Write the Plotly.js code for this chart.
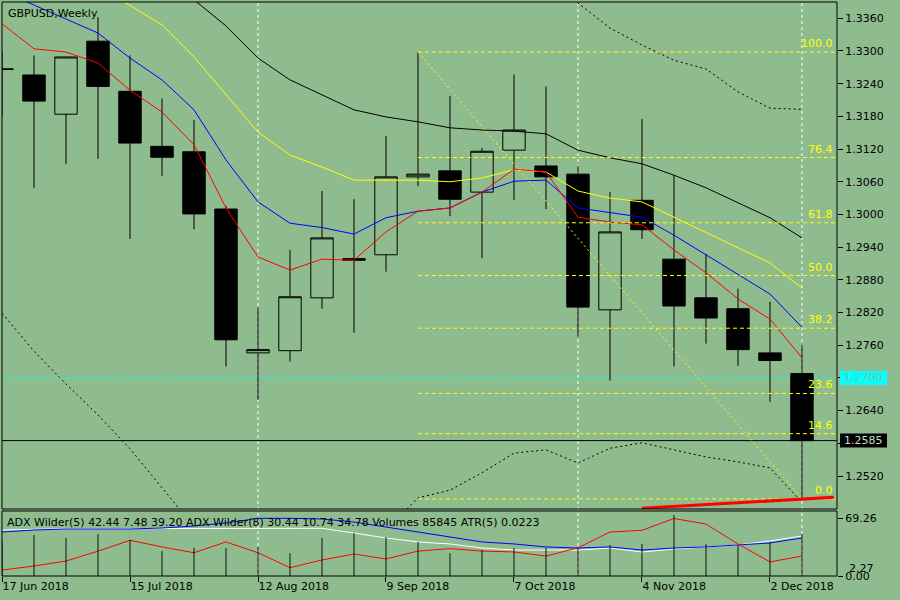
<!DOCTYPE html>
<html><head><meta charset="utf-8">
<script src="https://cdn.plot.ly/plotly-3.0.1.min.js"></script>
<style>html,body{margin:0;padding:0;background:#8FBC8F;}#chart{width:900px;height:600px;}</style>
</head><body><div id="chart"></div>
<script>
const weeks = ['2018-06-17','2018-06-24','2018-07-01','2018-07-08','2018-07-15','2018-07-22','2018-07-29','2018-08-05','2018-08-12','2018-08-19','2018-08-26','2018-09-02','2018-09-09','2018-09-16','2018-09-23','2018-09-30','2018-10-07','2018-10-14','2018-10-21','2018-10-28','2018-11-04','2018-11-11','2018-11-18','2018-11-25','2018-12-02','2018-12-09'];
const openP  = [1.3266,1.3256,1.3184,1.3318,1.3226,1.3125,1.3115,1.3010,1.2746,1.2750,1.2847,1.2919,1.2926,1.3069,1.3080,1.3041,1.3118,1.3089,1.3074,1.2825,1.3026,1.2918,1.2847,1.2827,1.2746,1.2708];
const highP  = [1.3300,1.3292,1.3290,1.3362,1.3292,1.3213,1.3173,1.3016,1.2829,1.2935,1.3043,1.3028,1.3144,1.3298,1.3217,1.3122,1.3257,1.3235,1.3089,1.3041,1.3175,1.3072,1.2928,1.2864,1.2840,1.2761];
const lowP   = [1.3180,1.3049,1.3093,1.3102,1.2955,1.3071,1.2973,1.2721,1.2660,1.2730,1.2827,1.2783,1.2895,1.3052,1.2997,1.2920,1.3027,1.3010,1.2776,1.2695,1.2955,1.2721,1.2763,1.2722,1.2656,1.2478];
const closeP = [1.3267,1.3208,1.3289,1.3235,1.3131,1.3105,1.3001,1.2770,1.2752,1.2849,1.2957,1.2916,1.3069,1.3074,1.3028,1.3116,1.3155,1.3069,1.2830,1.2968,1.2972,1.2832,1.2810,1.2752,1.2732,1.2585];

const maRed    = [1.3350,1.3304,1.3298,1.3278,1.3228,1.3188,1.3128,1.3012,1.2922,1.2898,1.2918,1.2916,1.2968,1.3006,1.3012,1.3041,1.3083,1.3078,1.2995,1.2986,1.2981,1.2935,1.2893,1.2845,1.2808,1.2737];
const maBlue   = [1.3410,1.3384,1.3359,1.3333,1.3287,1.3247,1.3192,1.3100,1.3023,1.2984,1.2976,1.2964,1.2994,1.3006,1.3012,1.3041,1.3061,1.3063,1.3012,1.3003,1.2995,1.2962,1.2926,1.2889,1.2854,1.2793];
const maYellow = [null,null,null,1.3419,1.3384,1.3348,1.3289,1.3219,1.3151,1.3109,1.3087,1.3063,1.3063,1.3063,1.3060,1.3067,1.3082,1.3078,1.3043,1.3030,1.3023,1.2995,1.2966,1.2939,1.2911,1.2865];
const maBlack  = [null,null,null,null,null,1.3449,1.3394,1.3346,1.3287,1.3247,1.3219,1.3192,1.3179,1.3170,1.3159,1.3155,1.3153,1.3148,1.3118,1.3104,1.3093,1.3072,1.3049,1.3021,1.2994,1.2957];
const bandUpper = [null,null,null,null,null,null,null,null,null,null,null,null,null,null,null,null,null,1.3434,1.3388,1.3342,1.3311,1.3283,1.3267,1.3225,1.3195,1.3193];
const bandLower = [1.2819,1.2749,1.2689,1.2632,1.2570,1.2498,1.2427,null,null,null,null,null,1.2420,1.2480,1.2494,1.2526,1.2562,1.2568,1.2544,1.2571,1.2581,1.2568,1.2555,1.2546,1.2535,1.2472];

const volumes  = [70000,83800,77700,85800,73600,51100,57200,57200,59300,47000,77700,87900,79700,69500,47000,53100,57200,57200,57200,63400,65400,124700,65400,63400,69500,85845];
const adxRed   = [7.2,12,18,30,43,35,28,41,28,10,19.3,26.5,20.5,30,33,30,29,24,34,53,55,69.26,62.6,38.5,17,24];
const adxBlue  = [53,55.4,56.6,56.6,56.6,57.8,60.2,63.9,69.5,69.5,68.7,65,59,53,46.5,41,38.6,35,33.7,35,31.3,33.7,35,37.3,39.8,45.8];
const adxWhite = [55.4,56.6,57,57,57,57,57,57,57,57,57.5,51.8,45.8,41,38.6,33.7,31.3,31.3,31.3,33.7,28.9,32.5,35,37.3,42.2,48.2];

const priceTicks = [1.2520,1.2580,1.2640,1.2700,1.2760,1.2820,1.2880,1.2940,1.3000,1.3060,1.3120,1.3180,1.3240,1.3300,1.3360];
const fibLevels = [0.0,14.6,23.6,38.2,50.0,61.8,76.4,100.0];
const fibHigh = 1.3298, fibLow = 1.2478;
const fibStart = '2018-09-16', fibEnd = '2018-12-09';
const vLineDates = ['2018-08-12','2018-10-21','2018-12-09'];
const cyanLevel = 1.2700;
const bidPrice = 1.2585;
const redTrend = {x:['2018-11-04','2018-12-16'], y:[1.2461,1.2481]};
const subMax = 69.26, subMin = 2.27;
const subText = 'ADX Wilder(5) 42.44 7.48 39.20 ADX Wilder(8) 30.44 10.74 34.78 Volumes 85845 ATR(5) 0.0223';

const BG = '#8FBC8F';
const xStart = '2018-06-17', xEnd = '2018-12-16 15:50';
const mainDom = [0.11672, 1], subDom = [0, 0.11324];
const dash = '4px,3px';
const F = 'DejaVu Sans';

function line(y, color, dashv, axis){
  return {type:'scatter', mode:'lines', x:weeks, y:y, yaxis:axis||'y', hoverinfo:'skip',
          line:{color:color, width:1, dash:dashv||'solid'}};
}

const traces = [
  {type:'candlestick', x:weeks, open:openP, high:highP, low:lowP, close:closeP, xaxis:'x', yaxis:'y',
   increasing:{line:{color:'#000',width:1}, fillcolor:BG},
   decreasing:{line:{color:'#000',width:1}, fillcolor:'#000'}, whiskerwidth:0, hoverinfo:'skip'},
  line(bandUpper,'#000','2px,3px'),
  line(bandLower,'#000','2px,3px'),
  line(maBlack,'#000'),
  line(maYellow,'#FFFF00'),
  line(maBlue,'#0000FF'),
  line(maRed,'#FF0000'),
  {type:'bar', x:weeks, y:volumes, yaxis:'y3', width:17000000, marker:{color:'#000', line:{width:0}}, hoverinfo:'skip'},
  line(adxWhite,'#FFFFFF',null,'y2'),
  line(adxBlue,'#0000FF',null,'y2'),
  line(adxRed,'#FF0000',null,'y2')
];

const shapes = [];
vLineDates.forEach(d => shapes.push({type:'line', xref:'x', yref:'paper', x0:d, x1:d, y0:0, y1:1, layer:'below',
  line:{color:'#FFFFFF', width:1, dash:'3px,3px'}}));
shapes.push({type:'line', xref:'paper', yref:'y', x0:0, x1:1, y0:cyanLevel, y1:cyanLevel, layer:'below', line:{color:'#00FFFF', width:1, dash:dash}});
shapes.push({type:'line', xref:'paper', yref:'y', x0:0, x1:1, y0:bidPrice, y1:bidPrice, layer:'below', line:{color:'#000', width:1}});
fibLevels.forEach(l => {
  const p = fibLow + (fibHigh - fibLow) * l / 100;
  shapes.push({type:'line', xref:'x', yref:'y', x0:fibStart, x1:xEnd, y0:p, y1:p, layer:'above', line:{color:'#FFFF00', width:1, dash:dash}});
});
shapes.push({type:'line', xref:'x', yref:'y', x0:fibStart, x1:fibEnd, y0:fibHigh, y1:fibLow, layer:'above', line:{color:'#FFFF00', width:1, dash:'2px,3px'}});
shapes.push({type:'line', xref:'x', yref:'y', x0:redTrend.x[0], x1:redTrend.x[1], y0:redTrend.y[0], y1:redTrend.y[1], layer:'above', line:{color:'#FF0000', width:3}});
shapes.push({type:'rect', xref:'paper', yref:'paper', x0:0, x1:1, y0:mainDom[0], y1:mainDom[1], layer:'above', line:{color:'#000', width:1}, fillcolor:'rgba(0,0,0,0)'});
shapes.push({type:'rect', xref:'paper', yref:'paper', x0:0, x1:1, y0:subDom[0], y1:subDom[1], layer:'above', line:{color:'#000', width:1}, fillcolor:'rgba(0,0,0,0)'});
const bx0 = 1.00359, bx1 = 1.05988;
shapes.push({type:'rect', xref:'paper', yref:'y', ysizemode:'pixel', yanchor:cyanLevel, x0:bx0, x1:bx1, y0:-7, y1:7, layer:'above', fillcolor:'#00FFFF', line:{width:0}});
shapes.push({type:'rect', xref:'paper', yref:'y', ysizemode:'pixel', yanchor:bidPrice, x0:bx0, x1:bx1, y0:-7, y1:7, layer:'above', fillcolor:'#000', line:{width:0}});

const annotations = [];
annotations.push({xref:'paper', yref:'paper', x:0, y:1, xanchor:'left', yanchor:'top', xshift:4, yshift:-3, showarrow:false,
  text:'GBPUSD,Weekly', font:{family:F, size:11, color:'#000'}});
annotations.push({xref:'paper', yref:'paper', x:0, y:subDom[1], xanchor:'left', yanchor:'top', xshift:3, yshift:-3, showarrow:false,
  text:subText, font:{family:F, size:11, color:'#000'}});
fibLevels.forEach(l => {
  const p = fibLow + (fibHigh - fibLow) * l / 100;
  annotations.push({xref:'paper', yref:'y', x:1, y:p, xanchor:'right', yanchor:'bottom', xshift:-2, yshift:0, showarrow:false,
    text:l.toFixed(1), font:{family:F, size:11, color:'#FFFF00'}});
});
annotations.push({xref:'paper', yref:'y', x:bx0, y:cyanLevel, xanchor:'left', yanchor:'middle', xshift:2, showarrow:false,
  text:cyanLevel.toFixed(4), font:{family:F, size:11, color:BG}});
annotations.push({xref:'paper', yref:'y', x:bx0, y:bidPrice, xanchor:'left', yanchor:'middle', xshift:2, showarrow:false,
  text:bidPrice.toFixed(4), font:{family:F, size:11, color:'#C8DCC8'}});
annotations.push({xref:'paper', yref:'y2', x:1, y:subMin, xanchor:'left', yanchor:'middle', xshift:10, yshift:6, showarrow:false,
  text:subMin.toFixed(2), font:{family:F, size:11, color:'#000'}});

// tick labels hidden behind the price label boxes are left blank
const covered = [cyanLevel.toFixed(4), '1.2580'];

const layout = {
  width:900, height:600,
  margin:{l:2, r:63, t:2, b:24, pad:0},
  paper_bgcolor:BG, plot_bgcolor:BG,
  showlegend:false, hovermode:false,
  font:{family:F, size:11, color:'#000'},
  boxgap:0.3, boxgroupgap:0,
  xaxis:{type:'date', range:[xStart, xEnd], anchor:'y2', rangeslider:{visible:false}, showgrid:false, zeroline:false,
         tick0:xStart, dtick:28*86400000, tickformat:'%-d %b %Y', ticks:'outside', ticklen:5, tickcolor:'#000',
         ticklabelposition:'outside right', showline:false, tickfont:{family:F, size:11, color:'#000'}},
  yaxis:{domain:mainDom, range:[1.24595, 1.33899], side:'right', anchor:'x', tickvals:priceTicks,
         ticktext:priceTicks.map(v => covered.includes(v.toFixed(4)) ? '' : v.toFixed(4)), ticks:'outside', ticklen:5, tickcolor:'#000',
         showgrid:false, zeroline:false, showline:false, tickfont:{family:F, size:11, color:'#000'}},
  yaxis2:{domain:subDom, range:[0, 78.3], side:'right', anchor:'x', tickvals:[0, subMax], ticktext:['0.00', subMax.toFixed(2)],
         ticks:'outside', ticklen:5, tickcolor:'#000', showgrid:false, zeroline:false, showline:false,
         tickfont:{family:F, size:11, color:'#000'}},
  yaxis3:{overlaying:'y2', range:[0, 132855], visible:false, showgrid:false, zeroline:false},
  shapes:shapes, annotations:annotations
};

Plotly.newPlot('chart', traces, layout, {staticPlot:true, displayModeBar:false});
</script>
</body></html>
